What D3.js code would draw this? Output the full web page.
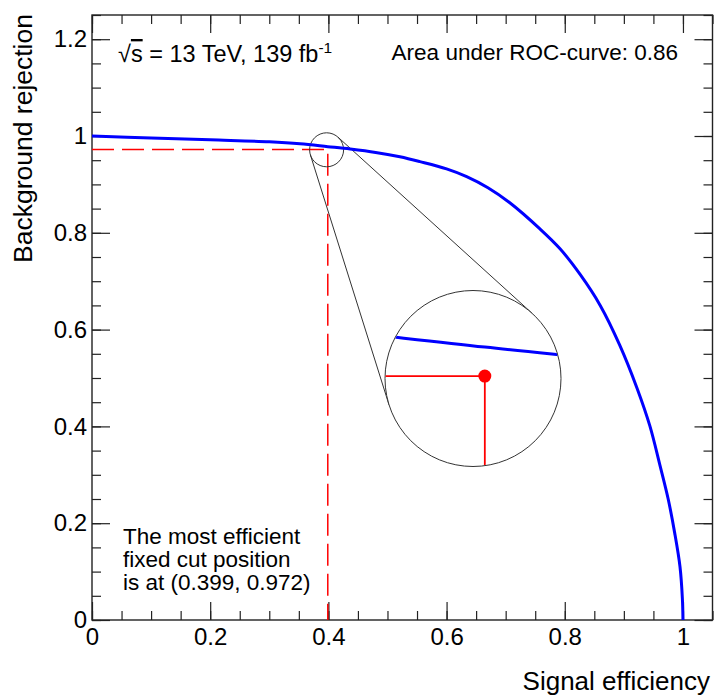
<!DOCTYPE html>
<html>
<head>
<meta charset="utf-8">
<script src="https://cdn.jsdelivr.net/npm/d3@7"></script>
<style>
  body { margin: 0; background: #fff; }
  text { font-family: "Liberation Sans", Arial, Helvetica, sans-serif; fill: #000; }
</style>
</head>
<body>
<div id="chart"></div>
<script>
// ROC curve
const sigEff = [0, 0.1, 0.2, 0.3, 0.352, 0.399, 0.437, 0.48, 0.521, 0.555, 0.6, 0.634, 0.67, 0.707,
  0.758, 0.792, 0.826, 0.86, 0.893, 0.922, 0.944, 0.961, 0.975, 0.986, 0.995, 0.999, 1.0];
const bkgRej = [1.0, 0.996, 0.992, 0.988, 0.984, 0.978, 0.973, 0.966, 0.957, 0.947, 0.932, 0.916, 0.893, 0.862,
  0.808, 0.767, 0.714, 0.650, 0.568, 0.480, 0.401, 0.320, 0.250, 0.180, 0.110, 0.045, 0.0];

// best cut and zoom window
const cutX = 0.399, cutY = 0.972;
const zoomX = 0.397, zoomY = 0.9715;
const zoomMag = 10;

const xTicks = [0, 0.2, 0.4, 0.6, 0.8, 1.0];
const xTickLabels = ["0", "0.2", "0.4", "0.6", "0.8", "1"];
const yTicks = [0, 0.2, 0.4, 0.6, 0.8, 1.0, 1.2];
const yTickLabels = ["0", "0.2", "0.4", "0.6", "0.8", "1", "1.2"];

const data = sigEff.map((d, i) => ({ x: d, y: bkgRej[i] }));

const W = 719, H = 700;
const margin = { top: 15, left: 92 },
    width = 620.5,
    height = 605;

const svg = d3.select("#chart").append("svg")
    .attr("width", W)
    .attr("height", H);

const g = svg.append("g")
    .attr("transform", `translate(${margin.left},${margin.top})`);

const x = d3.scaleLinear().domain([0, 1.05]).range([0, width]);
const y = d3.scaleLinear().domain([0, 1.25]).range([height, 0]);

const xMinor = d3.range(0, 1.0501, 0.05);
const yMinor = d3.range(0, 1.2501, 0.05);

// axes: ticks on all four sides, ROOT style
function styleAxis(sel) {
    sel.select(".domain").remove();
    sel.selectAll("line").attr("stroke", "#222").attr("stroke-width", 1.2);
    sel.selectAll("text").attr("font-size", 24);
}

g.append("g").attr("transform", `translate(0,${height})`)
    .call(d3.axisBottom(x).tickValues(xMinor).tickSize(-9).tickFormat(""))
    .call(styleAxis);
g.append("g").attr("transform", `translate(0,${height})`)
    .call(d3.axisBottom(x).tickValues(xTicks).tickSize(-18).tickPadding(8)
        .tickFormat((d, i) => xTickLabels[i]))
    .call(styleAxis);
g.append("g")
    .call(d3.axisTop(x).tickValues(xMinor).tickSize(-9).tickFormat(""))
    .call(styleAxis);
g.append("g")
    .call(d3.axisTop(x).tickValues(xTicks).tickSize(-18).tickFormat(""))
    .call(styleAxis);

g.append("g")
    .call(d3.axisLeft(y).tickValues(yMinor).tickSize(-9).tickFormat(""))
    .call(styleAxis);
g.append("g")
    .call(d3.axisLeft(y).tickValues(yTicks).tickSize(-18).tickPadding(5)
        .tickFormat((d, i) => yTickLabels[i]))
    .call(styleAxis);
g.append("g").attr("transform", `translate(${width},0)`)
    .call(d3.axisRight(y).tickValues(yMinor).tickSize(-9).tickFormat(""))
    .call(styleAxis);
g.append("g").attr("transform", `translate(${width},0)`)
    .call(d3.axisRight(y).tickValues(yTicks).tickSize(-18).tickFormat(""))
    .call(styleAxis);

// frame
g.append("rect")
    .attr("width", width).attr("height", height)
    .attr("fill", "none").attr("stroke", "#222").attr("stroke-width", 1.4);

// dashed cut lines
g.append("path")
    .attr("d", d3.line()([[x(0), y(cutY)], [x(cutX), y(cutY)], [x(cutX), y(0)]]))
    .attr("fill", "none")
    .attr("stroke", "#ff0000")
    .attr("stroke-width", 1.5)
    .attr("stroke-dasharray", "22,8");

// zoom circles and tangents
const sc = [x(zoomX), y(zoomY)], r1 = 17;
const bc = [381, 363.5], r2 = 88;
const dx = bc[0] - sc[0], dy = bc[1] - sc[1];
const dist = Math.hypot(dx, dy);
const base = Math.atan2(dy, dx);
const phi = Math.acos((r1 - r2) / dist);
[base + phi, base - phi].forEach(a => {
    const n = [Math.cos(a), Math.sin(a)];
    g.append("line")
        .attr("x1", sc[0] + r1 * n[0]).attr("y1", sc[1] + r1 * n[1])
        .attr("x2", bc[0] + r2 * n[0]).attr("y2", bc[1] + r2 * n[1])
        .attr("stroke", "#333").attr("stroke-width", 1);
});
g.append("circle").attr("cx", sc[0]).attr("cy", sc[1]).attr("r", r1)
    .attr("fill", "none").attr("stroke", "#333").attr("stroke-width", 1);
g.append("circle").attr("cx", bc[0]).attr("cy", bc[1]).attr("r", r2)
    .attr("fill", "#fff").attr("stroke", "#333").attr("stroke-width", 1);

// ROC curve
const curve = d3.curveCatmullRom.alpha(0.5);
const line = d3.line().x(d => x(d.x)).y(d => y(d.y)).curve(curve);
g.append("path")
    .datum(data)
    .attr("d", line)
    .attr("fill", "none")
    .attr("stroke", "#0000ff")
    .attr("stroke-width", 3);

// magnified inset
const half = r2 / zoomMag;
const xi = d3.scaleLinear()
    .domain([x.invert(sc[0] - half), x.invert(sc[0] + half)])
    .range([bc[0] - r2, bc[0] + r2]);
const yi = d3.scaleLinear()
    .domain([y.invert(sc[1] + half), y.invert(sc[1] - half)])
    .range([bc[1] + r2, bc[1] - r2]);

svg.append("defs").append("clipPath").attr("id", "inset")
    .append("circle").attr("cx", bc[0]).attr("cy", bc[1]).attr("r", r2 - 0.5);
const inset = g.append("g").attr("clip-path", "url(#inset)");

inset.append("path")
    .datum(data)
    .attr("d", d3.line().x(d => xi(d.x)).y(d => yi(d.y)).curve(curve))
    .attr("fill", "none")
    .attr("stroke", "#0000ff")
    .attr("stroke-width", 3);
inset.append("path")
    .attr("d", d3.line()([[bc[0] - r2, yi(cutY)], [xi(cutX), yi(cutY)], [xi(cutX), bc[1] + r2]]))
    .attr("fill", "none")
    .attr("stroke", "#ff0000")
    .attr("stroke-width", 1.8);
inset.append("circle")
    .attr("cx", xi(cutX)).attr("cy", yi(cutY)).attr("r", 6.5)
    .attr("fill", "#ff0000");

// texts
const sq = svg.append("text").attr("x", 118).attr("y", 62).attr("font-size", 23.5);
sq.append("tspan").text("√");
sq.append("tspan").attr("text-decoration", "overline").text("s");
sq.append("tspan").text(" = 13 TeV, 139 fb");
sq.append("tspan").attr("font-size", 15.5).attr("dy", -9).text("-1");

svg.append("text")
    .attr("x", 678).attr("y", 60)
    .attr("font-size", 22.5)
    .attr("text-anchor", "end")
    .text("Area under ROC-curve: 0.86");

const note = svg.append("text").attr("font-size", 22.5);
["The most efficient", "fixed cut position", "is at (0.399, 0.972)"].forEach((t, i) => {
    note.append("tspan").attr("x", 123).attr("y", 544 + i * 23).text(t);
});

svg.append("text")
    .attr("x", 710).attr("y", 690)
    .attr("font-size", 26)
    .attr("text-anchor", "end")
    .text("Signal efficiency");

svg.append("text")
    .attr("transform", "translate(32,14) rotate(-90)")
    .attr("font-size", 26.5)
    .attr("text-anchor", "end")
    .text("Background rejection");
</script>
</body>
</html>
